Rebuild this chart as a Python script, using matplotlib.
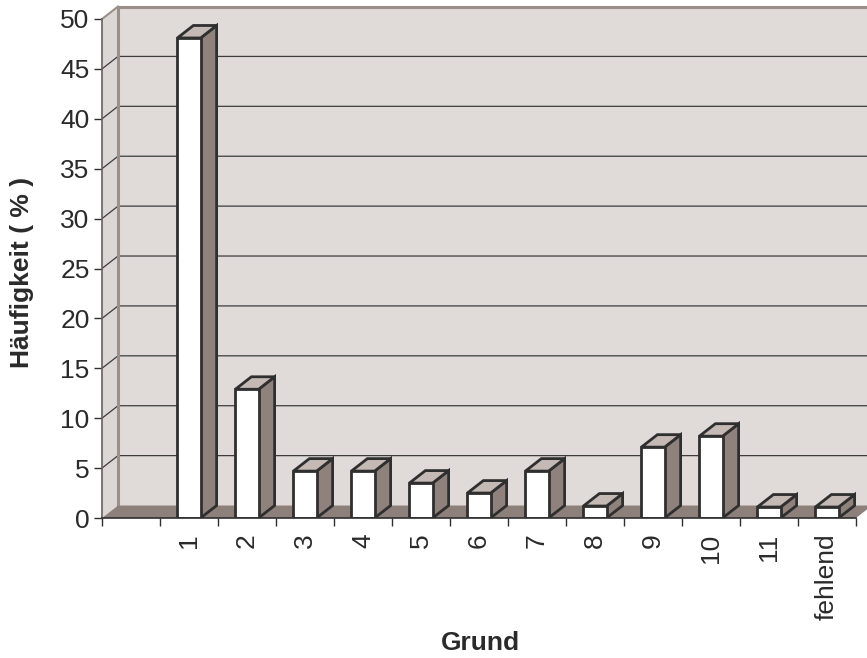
import matplotlib.pyplot as plt
from matplotlib.patches import Polygon, Rectangle

plt.rcParams['font.family'] = ['Liberation Sans', 'DejaVu Sans']

# data: share of each reason (first slot on the axis stays empty)
labels = ["", "1", "2", "3", "4", "5", "6", "7", "8", "9", "10", "11", "fehlend"]
values = [None, 48.1, 12.9, 4.7, 4.7, 3.5, 2.5, 4.7, 1.2, 7.1, 8.2, 1.1, 1.1]
yticks = list(range(0, 51, 5))

# colours of the pseudo 3d chart
wall = "#e0dbd9"
side_wall = "#dcd7d5"
floor = "#8d7f7a"
bar_front = "#ffffff"
bar_side = "#8f817b"
bar_top = "#c4b9b4"
edge = "#2f2f2f"
rim = "#9b8f8a"

# depth offset of the back plane, in data units
DX, DY = 0.276, 1.25
n = len(labels)
ymax = 50

# axes placement in pixels
W, H = 867, 658
x0px, y0px = 102, 518
ppx, ppy = 58.0, 9.98
ax_w = (n + DX) * ppx
ax_h = (ymax + DY) * ppy

fig = plt.figure(figsize=(W / 100, H / 100), dpi=100)
ax = fig.add_axes([x0px / W, (H - y0px) / H, ax_w / W, ax_h / H])
ax.set_xlim(0, n + DX)
ax.set_ylim(0, ymax + DY)

# back wall and left wall
ax.add_patch(Rectangle((DX, DY), n, ymax, facecolor=wall, edgecolor="none", zorder=1))
ax.add_patch(Polygon([(0, 0), (DX, DY), (DX, ymax + DY), (0, ymax)],
                     facecolor=side_wall, edgecolor="none", zorder=1))

# gridlines on both walls
for v in yticks[1:-1]:
    ax.plot([0, DX, n + DX], [v, v + DY, v + DY], color="#3c3c3c", lw=0.9, zorder=2)

# rim of the walls
ax.plot([DX, DX, n + DX], [DY, ymax + DY, ymax + DY], color=rim, lw=2.2,
        zorder=2, solid_joinstyle="miter", clip_on=False)
ax.plot([0, DX], [ymax, ymax + DY], color=rim, lw=1.5, zorder=2, clip_on=False)

# floor
ax.add_patch(Polygon([(0, 0), (n, 0), (n + DX, DY), (DX, DY)],
                     facecolor=floor, edgecolor="none", zorder=3))

# bars
bw = 0.4
for i, v in enumerate(values):
    if v is None:
        continue
    xa = i + 0.5 - bw / 2
    xb = xa + bw
    kw = dict(edgecolor=edge, lw=2.0, joinstyle="miter", zorder=4)
    ax.add_patch(Polygon([(xb, 0), (xb + DX, DY), (xb + DX, v + DY), (xb, v)],
                         facecolor=bar_side, **kw))
    ax.add_patch(Polygon([(xa, v), (xb, v), (xb + DX, v + DY), (xa + DX, v + DY)],
                         facecolor=bar_top, **kw))
    ax.add_patch(Rectangle((xa, 0), bw, v, facecolor=bar_front, **kw))

# axes lines and ticks
for s in ["top", "right"]:
    ax.spines[s].set_visible(False)
ax.spines["left"].set_bounds(0, ymax)
ax.spines["left"].set_color("#6a605c")
ax.spines["left"].set_linewidth(1.2)
ax.spines["bottom"].set_bounds(0, n)
ax.spines["bottom"].set_color(edge)
ax.spines["bottom"].set_linewidth(1.2)
ax.spines["left"].set_zorder(5)
ax.spines["bottom"].set_zorder(5)

ax.set_yticks(yticks)
ax.set_yticklabels([str(t) for t in yticks])
ax.tick_params(axis="y", direction="out", length=6, width=1, color=edge,
               pad=3, labelsize=19, labelcolor="#2a2a2a")

ax.set_xticks(range(n + 1))
ax.set_xticklabels([])
ax.set_xticks([i + 0.5 for i in range(n)], minor=True)
ax.set_xticklabels(labels, minor=True, rotation=90)
ax.tick_params(axis="x", which="major", direction="out", length=6, width=1, color=edge)
ax.tick_params(axis="x", which="minor", length=0, pad=11, labelsize=19,
               labelcolor="#2a2a2a")

fig.text(22 / W, 1 - 272 / H, "Häufigkeit ( % )", rotation=90, ha="center",
         va="center", fontsize=19, fontweight="bold", color="#2a2a2a")
fig.text(480 / W, 1 - 643 / H, "Grund", ha="center", va="center",
         fontsize=19, fontweight="bold", color="#2a2a2a")

fig.savefig("out.png", dpi=100)
